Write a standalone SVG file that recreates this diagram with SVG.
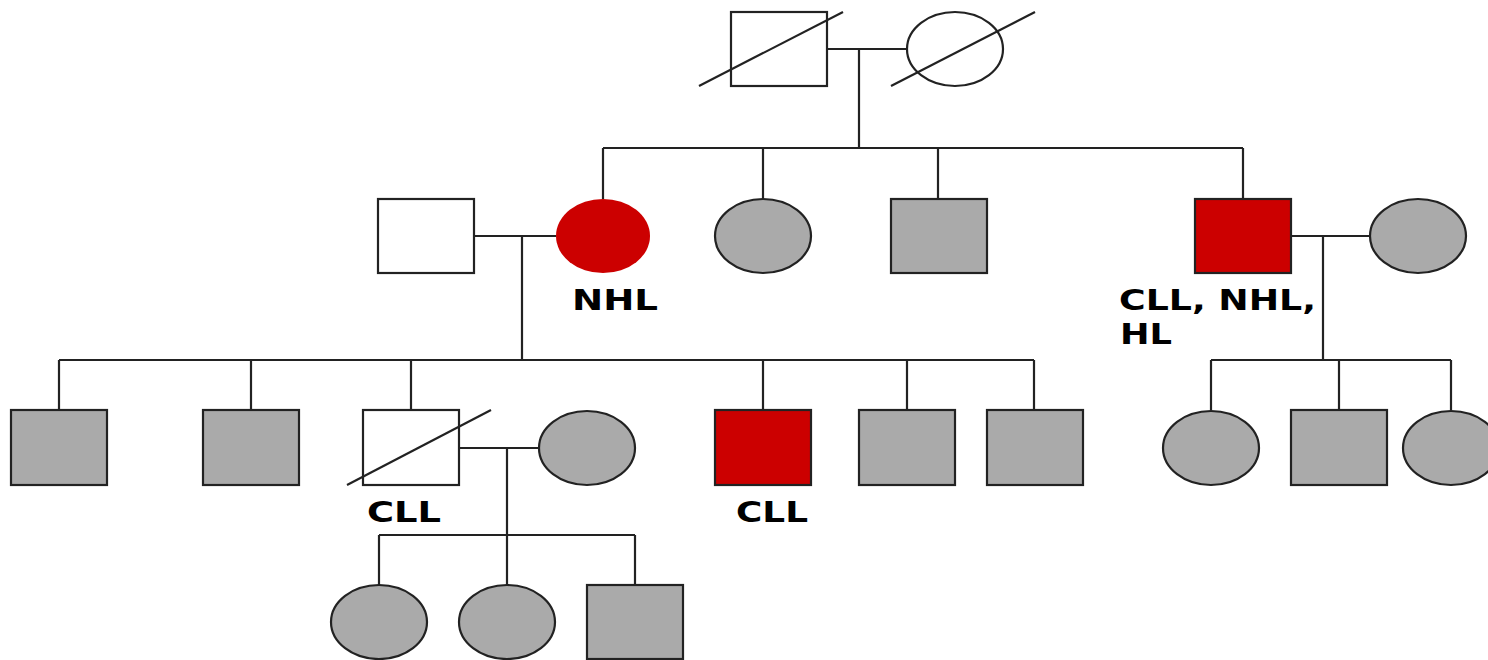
<svg xmlns="http://www.w3.org/2000/svg" width="1488" height="660" viewBox="0 0 1488 660">
<style>
.ln{stroke:#222;stroke-width:2.2;fill:none}
.w{fill:#fff;stroke:#222;stroke-width:2.2}
.g{fill:#aaa;stroke:#222;stroke-width:2.2}
.r{fill:#cc0000;stroke:#222;stroke-width:2.2}
.rc{fill:#cc0000;stroke:none}
.t{font-family:"DejaVu Sans",sans-serif;font-weight:bold;font-size:28px;fill:#000}
</style>
<rect width="1488" height="660" fill="#fff"/>
<g id="connectors">
<path class="ln" d="M827 49H907M859 49V148M603 148H1243M603 148V199M763 148V199M938 148V199M1243 148V199"/>
<path class="ln" d="M474 236H556M522 236V360M59 360H1034M59 360V410M251 360V410M411 360V410M763 360V410M907 360V410M1034 360V410"/>
<path class="ln" d="M1291 236H1370M1323 236V360M1211 360H1451M1211 360V410M1339 360V410M1451 360V410"/>
<path class="ln" d="M459 448H539M507 448V535M379 535H635M379 535V585M507 535V585M635 535V585"/>
</g>
<g id="grandfather"><rect class="w" x="731" y="12" width="96" height="74"/><line class="ln" x1="699" y1="86" x2="843" y2="12"/></g>
<g id="grandmother"><ellipse class="w" cx="955" cy="49" rx="48" ry="37"/><line class="ln" x1="891" y1="86" x2="1035" y2="12"/></g>
<g id="husband1"><rect class="w" x="378" y="199" width="96" height="74"/></g>
<g id="nhl-mother"><ellipse class="rc" cx="603" cy="236" rx="47" ry="37"/><text class="t" x="572" y="310" textLength="86" lengthAdjust="spacingAndGlyphs">NHL</text></g>
<g id="aunt"><ellipse class="g" cx="763" cy="236" rx="48" ry="37"/></g>
<g id="uncle"><rect class="g" x="891" y="199" width="96" height="74"/></g>
<g id="affected-uncle"><rect class="r" x="1195" y="199" width="96" height="74"/><text class="t" x="1119" y="310" textLength="197" lengthAdjust="spacingAndGlyphs">CLL, NHL,</text><text class="t" x="1120" y="344" textLength="52" lengthAdjust="spacingAndGlyphs">HL</text></g>
<g id="uncle-wife"><ellipse class="g" cx="1418" cy="236" rx="48" ry="37"/></g>
<g id="son1"><rect class="g" x="11" y="410" width="96" height="75"/></g>
<g id="son2"><rect class="g" x="203" y="410" width="96" height="75"/></g>
<g id="cll-son"><rect class="w" x="363" y="410" width="96" height="75"/><line class="ln" x1="347" y1="485" x2="491" y2="410"/><text class="t" x="367" y="522" textLength="74" lengthAdjust="spacingAndGlyphs">CLL</text></g>
<g id="son-wife"><ellipse class="g" cx="587" cy="448" rx="48" ry="37"/></g>
<g id="cll-son2"><rect class="r" x="715" y="410" width="96" height="75"/><text class="t" x="736" y="522" textLength="72" lengthAdjust="spacingAndGlyphs">CLL</text></g>
<g id="son5"><rect class="g" x="859" y="410" width="96" height="75"/></g>
<g id="son6"><rect class="g" x="987" y="410" width="96" height="75"/></g>
<g id="cousin1"><ellipse class="g" cx="1211" cy="448" rx="48" ry="37"/></g>
<g id="cousin2"><rect class="g" x="1291" y="410" width="96" height="75"/></g>
<g id="cousin3"><ellipse class="g" cx="1451" cy="448" rx="48" ry="37"/></g>
<g id="gd1"><ellipse class="g" cx="379" cy="622" rx="48" ry="37"/></g>
<g id="gd2"><ellipse class="g" cx="507" cy="622" rx="48" ry="37"/></g>
<g id="gs1"><rect class="g" x="587" y="585" width="96" height="74"/></g>
</svg>
